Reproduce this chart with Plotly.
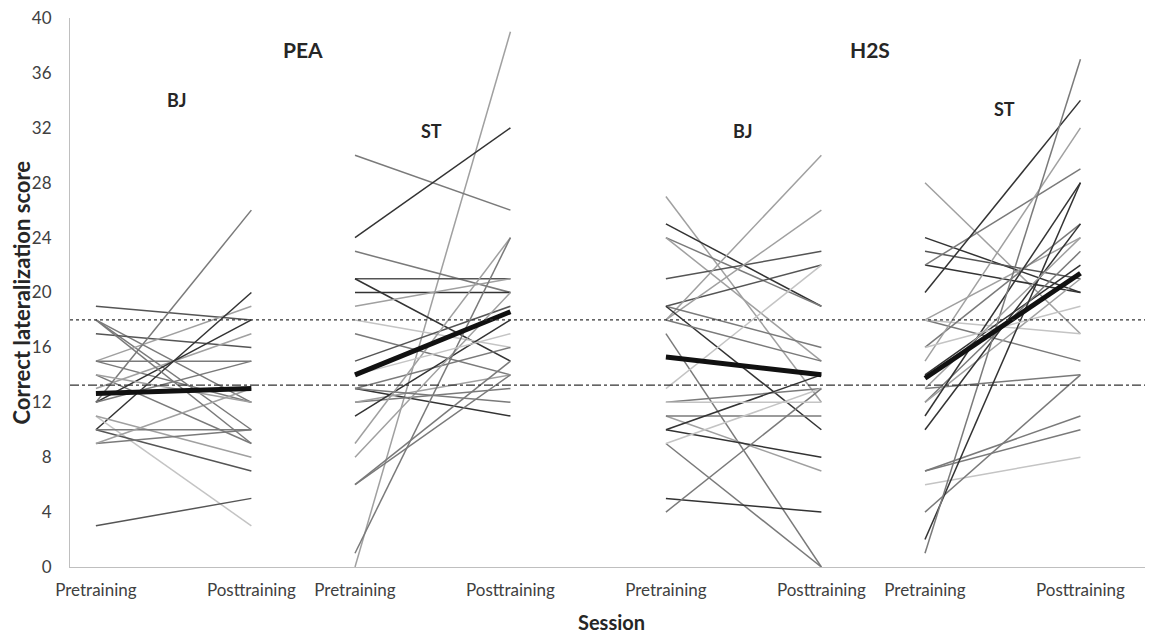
import plotly.graph_objects as go

# x positions of the sessions (Pre/Post for each of the four panels)
session_labels = ["Pretraining", "Posttraining", "Pretraining", "Posttraining",
                  "Pretraining", "Posttraining", "Pretraining", "Posttraining"]
session_pos = [0, 1.5, 2.5, 4, 5.5, 7, 8, 9.5]

# PEA - BJ
pea_bj_pre = [19, 18, 18, 17, 15, 15, 15, 14, 13, 12, 12, 10, 11, 11, 10, 10, 9, 9, 3, 14, 12, 18]
pea_bj_post = [18, 10, 12, 16, 19, 15, 12, 9, 17, 26, 18, 20, 3, 8, 7, 10, 10, 13, 5, 12, 15, 9]
pea_bj_shade = [1, 2, 2, 1, 3, 2, 2, 2, 3, 2, 0, 0, 4, 3, 1, 2, 2, 3, 1, 3, 2, 2]
pea_bj_mean = [12.65, 13.0]

# PEA - ST
pea_st_pre = [0, 30, 24, 23, 21, 20, 21, 19, 18, 17, 15, 13, 13, 12, 12, 11, 9, 8, 6, 6, 1, 13, 14]
pea_st_post = [39, 26, 32, 20, 21, 20, 15, 21, 16, 14, 19, 16, 11, 13, 14, 18, 24, 20, 14, 15, 24, 12, 17]
pea_st_shade = [3, 2, 0, 2, 1, 0, 0, 3, 4, 2, 1, 2, 0, 2, 3, 0, 3, 3, 2, 2, 2, 2, 4]
pea_st_mean = [14.0, 18.6]

# H2S - BJ
h2s_bj_pre = [27, 25, 24, 24, 21, 19, 18, 18, 19, 19, 17, 13, 12, 11, 11, 10, 10, 9, 9, 5, 4, 18, 12]
h2s_bj_post = [12, 19, 19, 15, 23, 22, 30, 26, 16, 10, 0, 22, 13, 7, 11, 8, 14, 0, 13, 4, 13, 15, 12]
h2s_bj_shade = [3, 0, 2, 3, 1, 1, 3, 3, 2, 0, 2, 4, 2, 3, 2, 0, 0, 2, 4, 0, 2, 2, 4]
h2s_bj_mean = [15.3, 14.0]

# H2S - ST
h2s_st_pre = [28, 24, 23, 22, 22, 20, 18, 18, 18, 16, 15, 14, 13, 12, 12, 11, 10, 7, 7, 6, 4, 2, 1, 16, 13]
h2s_st_post = [17, 20, 21, 20, 29, 34, 15, 24, 17, 25, 32, 22, 14, 23, 21, 28, 25, 11, 10, 8, 14, 28, 37, 19, 24]
h2s_st_shade = [3, 0, 1, 0, 2, 0, 2, 3, 4, 2, 3, 0, 2, 2, 3, 0, 0, 2, 2, 4, 2, 0, 2, 4, 3]
h2s_st_mean = [13.75, 21.4]

ref_dotted = 18
ref_dashdot = 13.25

shades = ["#333333", "#555555", "#7a7a7a", "#a0a0a0", "#c4c4c4"]

groups = [
    (pea_bj_pre, pea_bj_post, pea_bj_shade, pea_bj_mean, 0, 1),
    (pea_st_pre, pea_st_post, pea_st_shade, pea_st_mean, 2, 3),
    (h2s_bj_pre, h2s_bj_post, h2s_bj_shade, h2s_bj_mean, 4, 5),
    (h2s_st_pre, h2s_st_post, h2s_st_shade, h2s_st_mean, 6, 7),
]

fig = go.Figure()
for pre, post, shade, mean, i0, i1 in groups:
    x0, x1 = session_pos[i0], session_pos[i1]
    for a, b, s in zip(pre, post, shade):
        fig.add_trace(go.Scatter(x=[x0, x1], y=[a, b], mode="lines",
                                 line=dict(color=shades[s], width=1.5),
                                 showlegend=False, hoverinfo="skip"))
for pre, post, shade, mean, i0, i1 in groups:
    x0, x1 = session_pos[i0], session_pos[i1]
    fig.add_trace(go.Scatter(x=[x0, x1], y=mean, mode="lines",
                             line=dict(color="#111111", width=5),
                             showlegend=False, hoverinfo="skip"))

fig.add_shape(type="line", xref="paper", x0=0, x1=1, yref="y", y0=ref_dotted, y1=ref_dotted,
              line=dict(color="#333333", width=1.2, dash="dot"))
fig.add_shape(type="line", xref="paper", x0=0, x1=1, yref="y", y0=ref_dashdot, y1=ref_dashdot,
              line=dict(color="#333333", width=1.3, dash="dashdot"))

labels = [("PEA", 2.0, 37.7, 21), ("H2S", 7.47, 37.7, 21),
          ("BJ", 0.78, 34.0, 18), ("ST", 3.24, 31.8, 18),
          ("BJ", 6.24, 31.8, 18), ("ST", 8.77, 33.4, 18)]
for t, x, y, sz in labels:
    fig.add_annotation(x=x, y=y, text="<b>%s</b>" % t, showarrow=False,
                       font=dict(family="Lato", size=sz, color="#262626"))

# axis titles
fig.add_annotation(xref="paper", yref="paper", x=0, y=0.5, xshift=-49,
                   xanchor="center", yanchor="middle",
                   text="<b>Correct lateralization score</b>", textangle=-90,
                   showarrow=False, font=dict(family="Lato", size=22, color="#262626"))
fig.add_annotation(xref="paper", yref="paper", x=0.5, y=0, yshift=-55,
                   xanchor="center", yanchor="middle",
                   text="<b>Session</b>", showarrow=False,
                   font=dict(family="Lato", size=20, color="#262626"))

# page body has an 8px margin; size figure so it ends at the window edge
fig.update_layout(
    width=1145, height=626,
    margin=dict(l=62, r=0, t=10, b=67, autoexpand=False),
    plot_bgcolor="white", paper_bgcolor="white",
    font=dict(family="Lato", color="#404040"),
    showlegend=False,
)
fig.update_xaxes(range=[-0.25, 10.2], tickvals=session_pos, ticktext=session_labels,
                 showgrid=False, zeroline=False, showline=True, linecolor="#bfbfbf",
                 linewidth=1, ticks="", tickfont=dict(size=17, color="#404040"),
                 ticklabelstandoff=8, automargin=False)
fig.update_yaxes(range=[0, 40], tickvals=list(range(0, 41, 4)),
                 showgrid=False, zeroline=False, showline=True, linecolor="#bfbfbf",
                 linewidth=1, ticks="", tickfont=dict(size=17, color="#404040"),
                 ticklabelstandoff=14, ticklabeloverflow="allow", automargin=False)

fig.write_html("out.html")
